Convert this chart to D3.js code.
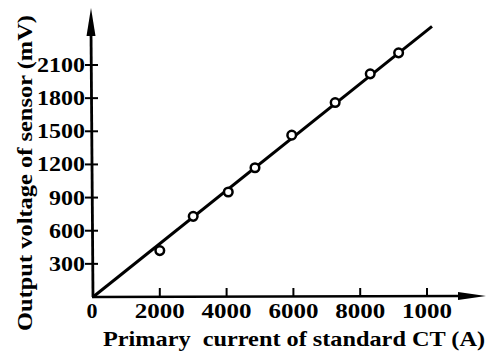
<!DOCTYPE html>
<html><head><meta charset="utf-8">
<script src="https://cdn.jsdelivr.net/npm/d3@7"></script>
<style>html,body{margin:0;padding:0;background:#fff;}svg{display:block;}</style>
</head><body>
<script>
const currents = [2000, 3000, 4050, 4850, 5950, 7250, 8300, 9150];
const voltages = [420, 730, 950, 1170, 1465, 1760, 2020, 2210];
const fitLine = [[0, 0], [10150, 2450]];
const xTicks = [2000, 4000, 6000, 8000, 10000];
const xTickLabels = ["2000", "4000", "6000", "8000", "1000"];
const yTicks = [300, 600, 900, 1200, 1500, 1800, 2100];
const xTitle = "Primary  current of standard CT (A)";
const yTitle = "Output voltage of sensor (mV)";

const W = 488, H = 354;
const svg = d3.select("body").append("svg").attr("width", W).attr("height", H);
const font = "'Liberation Serif', 'Times New Roman', serif";
const x = d3.scaleLinear().domain([0, 10000]).range([93, 427]);
const y = d3.scaleLinear().domain([0, 2100]).range([297, 65]);
const ox = x(0), oy = y(0);

// axes lines
svg.append("line").attr("x1", ox).attr("y1", oy).attr("x2", ox - 2).attr("y2", 30)
  .attr("stroke", "#000").attr("stroke-width", 2.8);
svg.append("line").attr("x1", ox - 1).attr("y1", oy).attr("x2", 462).attr("y2", oy - 1)
  .attr("stroke", "#000").attr("stroke-width", 2.5);
// arrowheads
svg.append("path").attr("d", `M${ox-2},8 L${ox+2.5},36 L${ox-6.5},36 Z`).attr("fill", "#000");
svg.append("path").attr("d", `M486,${oy-1} L458,${oy-5} L458,${oy+3} Z`).attr("fill", "#000");

// x ticks
const gx = svg.append("g");
xTicks.forEach((t, i) => {
  gx.append("line").attr("x1", x(t)).attr("x2", x(t)).attr("y1", oy).attr("y2", oy - 9)
    .attr("stroke", "#000").attr("stroke-width", 2);
  gx.append("text").attr("x", x(t)).attr("y", 318).attr("text-anchor", "middle")
    .attr("font-family", font).attr("font-weight", "bold").attr("font-size", 22)
    .attr("textLength", 50).attr("lengthAdjust", "spacingAndGlyphs")
    .text(xTickLabels[i]);
});
svg.append("text").attr("x", ox - 1).attr("y", 318).attr("text-anchor", "middle")
  .attr("font-family", font).attr("font-weight", "bold").attr("font-size", 22).text("0");

// y ticks
yTicks.forEach(t => {
  const s = String(t);
  svg.append("text").attr("x", 85).attr("y", y(t) + 7).attr("text-anchor", "end")
    .attr("font-family", font).attr("font-weight", "bold").attr("font-size", 22)
    .attr("textLength", s.length * 12).attr("lengthAdjust", "spacingAndGlyphs").text(s);
  svg.append("line").attr("x1", ox - 8).attr("x2", ox + 5).attr("y1", y(t)).attr("y2", y(t))
    .attr("stroke", "#000").attr("stroke-width", 2);
});

// fit line
svg.append("line")
  .attr("x1", x(fitLine[0][0])).attr("y1", y(fitLine[0][1]))
  .attr("x2", x(fitLine[1][0])).attr("y2", y(fitLine[1][1]))
  .attr("stroke", "#000").attr("stroke-width", 3);

// points
svg.selectAll("circle.pt").data(currents.map((c, i) => [c, voltages[i]])).enter()
  .append("circle").attr("class", "pt")
  .attr("cx", d => x(d[0])).attr("cy", d => y(d[1])).attr("r", 4.3)
  .attr("fill", "#fff").attr("stroke", "#000").attr("stroke-width", 2.5);

// titles
svg.append("text").attr("x", 103).attr("y", 346)
  .attr("font-family", font).attr("font-weight", "bold").attr("font-size", 21)
  .attr("textLength", 382).attr("lengthAdjust", "spacingAndGlyphs")
  .attr("xml:space", "preserve").style("white-space", "pre").text(xTitle);
svg.append("text").attr("transform", "translate(32,173) rotate(-90)").attr("text-anchor", "middle")
  .attr("font-family", font).attr("font-weight", "bold").attr("font-size", 21)
  .attr("textLength", 316).attr("lengthAdjust", "spacingAndGlyphs").text(yTitle);
</script>
</body></html>
